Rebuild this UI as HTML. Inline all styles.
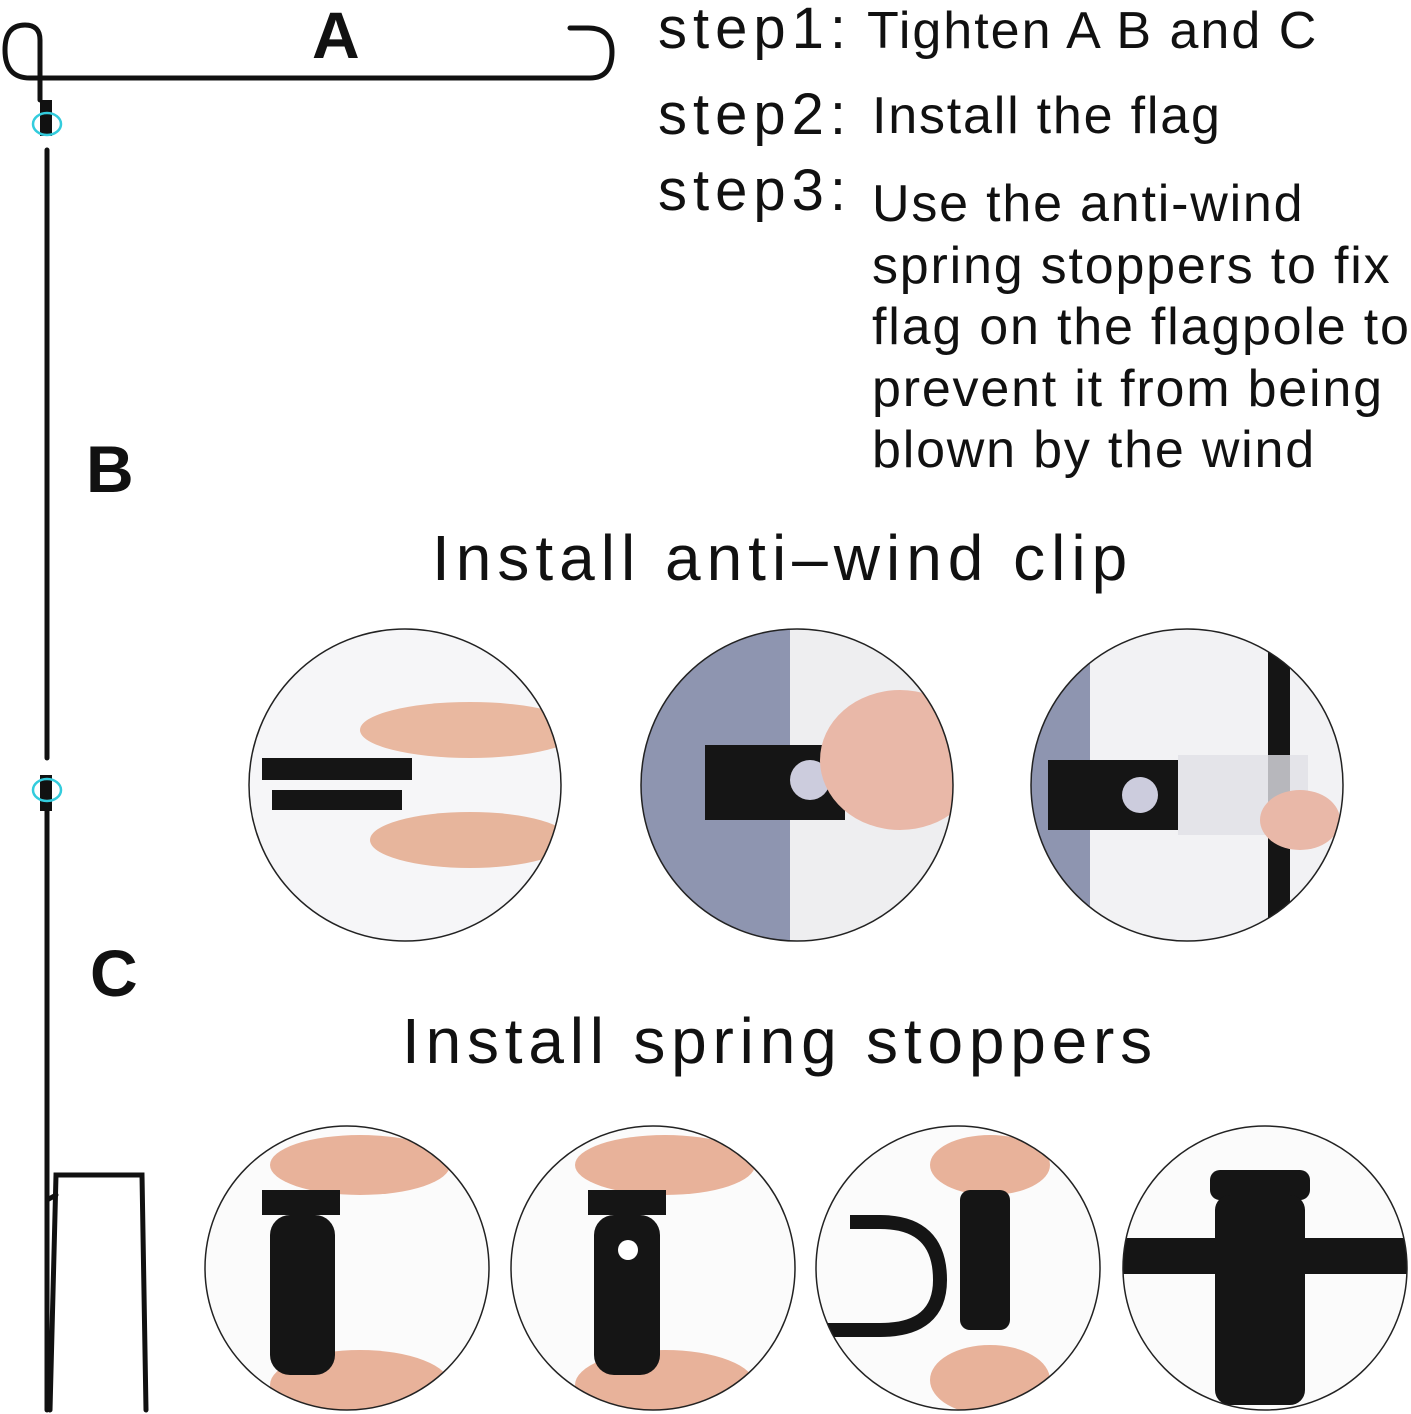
<!DOCTYPE html>
<html><head><style>
html,body{margin:0;padding:0;background:#fff;}
body{width:1411px;height:1414px;position:relative;overflow:hidden;font-family:"Liberation Sans",sans-serif;}
.t{position:absolute;white-space:nowrap;color:#111;line-height:1;}
</style></head><body>
<svg width="1411" height="1414" style="position:absolute;left:0;top:0">
<g fill="none" stroke="#111" stroke-width="5" stroke-linecap="round">
<path d="M40 100 L40 40 Q40 25 25 25 Q5 25 5 50 Q5 78 30 78 L590 78 Q612 78 612 52 Q612 28 588 28 L570 28"/>
<path d="M47 150 L47 758"/>
<path d="M47 805 L47 1410"/>
<path d="M50 1410 L56 1175 L142 1175 L146 1410"/>
<path d="M56 1195 L47 1200"/>
</g>
<rect x="40" y="100" width="12" height="36" fill="#111"/>
<rect x="40" y="775" width="12" height="36" fill="#111"/>
<ellipse cx="47" cy="124" rx="14" ry="11" fill="none" stroke="#3cd" stroke-width="2.5"/>
<ellipse cx="47" cy="790" rx="14" ry="11" fill="none" stroke="#3cd" stroke-width="2.5"/>
<defs>
<clipPath id="c1"><circle cx="405" cy="785" r="156"/></clipPath>
<clipPath id="c2"><circle cx="797" cy="785" r="156"/></clipPath>
<clipPath id="c3"><circle cx="1187" cy="785" r="156"/></clipPath>
<clipPath id="d1"><circle cx="347" cy="1268" r="142"/></clipPath>
<clipPath id="d2"><circle cx="653" cy="1268" r="142"/></clipPath>
<clipPath id="d3"><circle cx="958" cy="1268" r="142"/></clipPath>
<clipPath id="d4"><circle cx="1265" cy="1268" r="142"/></clipPath>
</defs>
<g clip-path="url(#c1)"><rect x="240" y="620" width="330" height="330" fill="#f6f6f8"/>
<ellipse cx="470" cy="730" rx="110" ry="28" fill="#e9b8a0"/><ellipse cx="470" cy="840" rx="100" ry="28" fill="#e7b59c"/>
<rect x="262" y="758" width="150" height="22" fill="#151515"/><rect x="272" y="790" width="130" height="20" fill="#151515"/></g>
<g clip-path="url(#c2)"><rect x="630" y="620" width="330" height="330" fill="#8e95b0"/><rect x="790" y="620" width="170" height="330" fill="#eeeef0"/>
<rect x="705" y="745" width="140" height="75" fill="#151515"/><circle cx="810" cy="780" r="20" fill="#ccd"/>
<ellipse cx="900" cy="760" rx="80" ry="70" fill="#e9b8a8"/></g>
<g clip-path="url(#c3)"><rect x="1020" y="620" width="330" height="330" fill="#f2f2f4"/><rect x="1020" y="620" width="70" height="330" fill="#8e95b0"/>
<rect x="1268" y="640" width="22" height="300" fill="#151515"/>
<rect x="1048" y="760" width="130" height="70" fill="#151515"/><rect x="1178" y="755" width="130" height="80" fill="#e0e0e6" opacity=".8"/>
<circle cx="1140" cy="795" r="18" fill="#ccd"/><ellipse cx="1300" cy="820" rx="40" ry="30" fill="#e9b8a8"/></g>
<g clip-path="url(#d1)"><rect x="200" y="1120" width="300" height="300" fill="#fbfbfb"/>
<ellipse cx="360" cy="1165" rx="90" ry="30" fill="#e8b29a"/><ellipse cx="360" cy="1385" rx="90" ry="35" fill="#e8b29a"/>
<rect x="262" y="1190" width="78" height="25" fill="#151515"/><rect x="270" y="1215" width="65" height="160" rx="20" fill="#151515"/></g>
<g clip-path="url(#d2)"><rect x="505" y="1120" width="300" height="300" fill="#fbfbfb"/>
<ellipse cx="665" cy="1165" rx="90" ry="30" fill="#e8b29a"/><ellipse cx="665" cy="1385" rx="90" ry="35" fill="#e8b29a"/>
<rect x="588" y="1190" width="78" height="25" fill="#151515"/><rect x="594" y="1215" width="66" height="160" rx="20" fill="#151515"/><circle cx="628" cy="1250" r="10" fill="#fff"/></g>
<g clip-path="url(#d3)"><rect x="810" y="1120" width="300" height="300" fill="#fbfbfb"/>
<path d="M850 1222 L880 1222 Q940 1222 940 1280 Q940 1330 880 1330 L820 1330" fill="none" stroke="#151515" stroke-width="14"/>
<ellipse cx="990" cy="1165" rx="60" ry="30" fill="#e8b29a"/><ellipse cx="990" cy="1380" rx="60" ry="35" fill="#e8b29a"/>
<rect x="960" y="1190" width="50" height="140" rx="10" fill="#151515"/></g>
<g clip-path="url(#d4)"><rect x="1115" y="1120" width="300" height="300" fill="#fbfbfb"/>
<rect x="1120" y="1238" width="300" height="36" fill="#151515"/>
<rect x="1210" y="1170" width="100" height="30" rx="10" fill="#151515"/><rect x="1215" y="1195" width="90" height="210" rx="15" fill="#151515"/></g>
<g fill="none" stroke="#222" stroke-width="1.5">
<circle cx="405" cy="785" r="156"/><circle cx="797" cy="785" r="156"/><circle cx="1187" cy="785" r="156"/>
<circle cx="347" cy="1268" r="142"/><circle cx="653" cy="1268" r="142"/><circle cx="958" cy="1268" r="142"/><circle cx="1265" cy="1268" r="142"/>
</g>
</svg>
<div class="t" style="left:312px;top:2px;font-size:66px;font-weight:bold">A</div>
<div class="t" style="left:86px;top:436px;font-size:66px;font-weight:bold">B</div>
<div class="t" style="left:90px;top:940px;font-size:66px;font-weight:bold">C</div>
<div class="t" style="left:658px;top:0px;font-size:58px;letter-spacing:6px">step1:</div>
<div class="t" style="left:867px;top:5px;font-size:52px;letter-spacing:2px">Tighten A B and C</div>
<div class="t" style="left:658px;top:86px;font-size:58px;letter-spacing:6px">step2:</div>
<div class="t" style="left:872px;top:90px;font-size:52px;letter-spacing:1.8px">Install the flag</div>
<div class="t" style="left:658px;top:162px;font-size:58px;letter-spacing:6px">step3:</div>
<div class="t" style="left:872px;top:174px;font-size:52px;letter-spacing:1.8px;line-height:61.5px">Use the anti-wind<br>spring stoppers to fix<br>flag on the flagpole to<br>prevent it from being<br>blown by the wind</div>
<div class="t" style="left:432px;top:526px;font-size:64px;letter-spacing:6px">Install anti–wind clip</div>
<div class="t" style="left:402px;top:1009px;font-size:64px;letter-spacing:5.8px">Install spring stoppers</div>
</body></html>
